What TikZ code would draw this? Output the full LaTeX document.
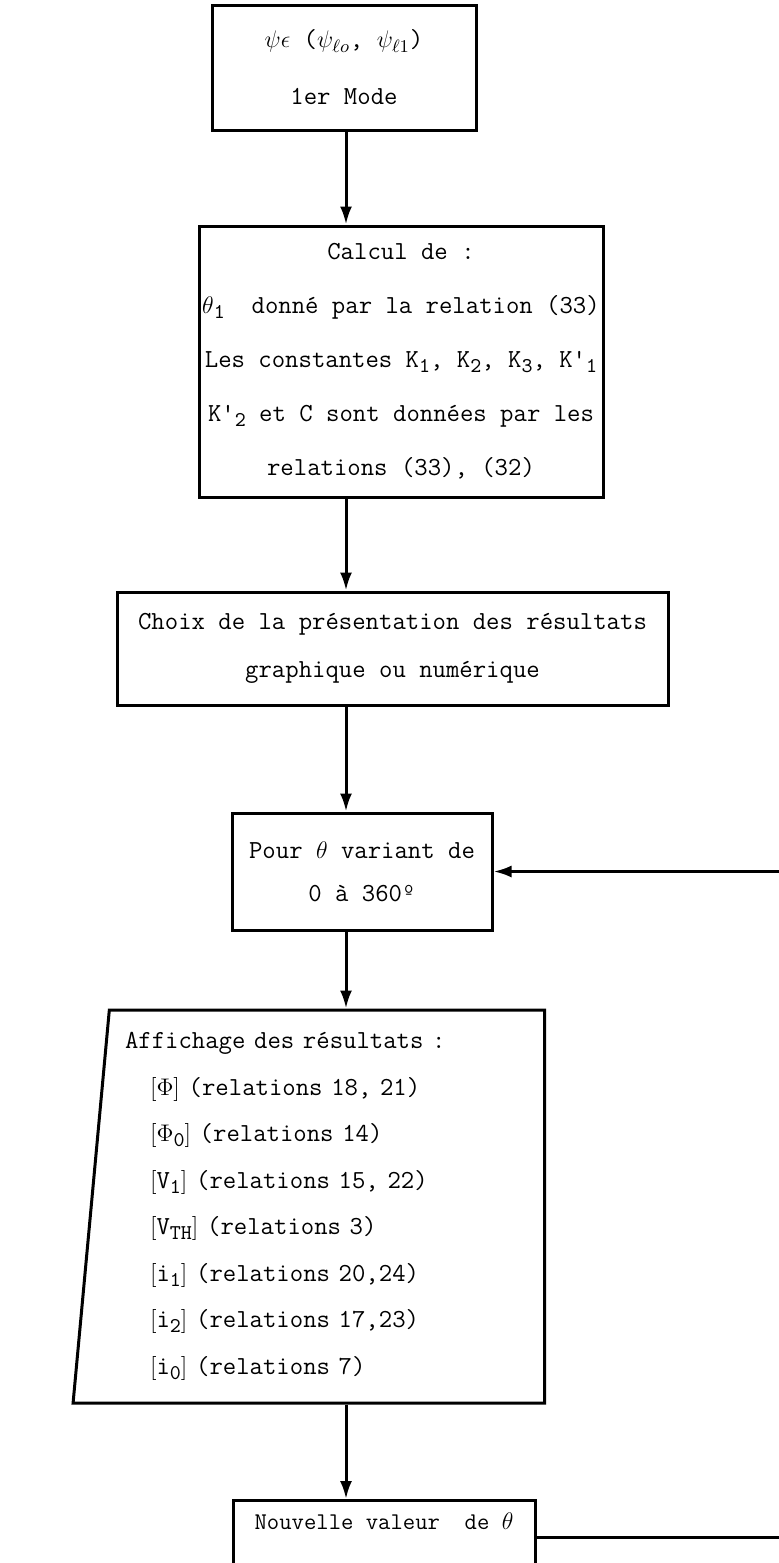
\documentclass[tikz,border=0pt]{standalone}
\usepackage{fontspec}
\usetikzlibrary{arrows.meta,shapes.geometric}

\newcommand{\crochet}[1]{$\bigl[$#1$\bigr]$}
\newcommand{\ind}[1]{\raisebox{-0.45ex}{\fontsize{10.5}{10.5}\selectfont #1}}

\begin{document}
\begin{tikzpicture}[x=0.5pt, y=-0.5pt, line width=1.5pt, >={Latex[length=9pt,width=6pt]},
		boite/.style={draw, align=center, inner sep=0pt, font=\ttfamily\fontsize{13}{#1}\selectfont}]
		\useasboundingbox (0,0) rectangle (779,1563);
		\clip (0,0) rectangle (779,1563);

		\node[boite=28.5, minimum width=132pt, minimum height=62.5pt] (mode) at (344,67.5)
			{$\psi\epsilon$ ($\psi_{\ell o}$, $\psi_{\ell 1}$)\\1er Mode};
		\node[boite=27, minimum width=202pt, minimum height=135.5pt] (calcul) at (401,361.5)
			{Calcul de :\\
			$\theta$\ind{1}\ \ donné par la relation (33)\\
			Les constantes K\ind{1}, K\ind{2}, K\ind{3}, K'\ind{1}\\
			K'\ind{2} et C sont données par les\\
			relations (33), (32)};
		\node[boite=24, minimum width=275.5pt, minimum height=56.5pt] (choix) at (392.5,648.5)
			{Choix de la présentation des résultats\\graphique ou numérique};
		\node[boite=21.5, minimum width=130pt, minimum height=58.5pt] (pour) at (362,871.5)
			{Pour $\theta$ variant de\\0 à 360º};
		\node[draw, trapezium, trapezium left angle=84.5, trapezium right angle=90, trapezium stretches=true,
			minimum width=236.5pt, minimum height=196.5pt, inner sep=3pt, align=left, text width=202pt,
			font=\ttfamily\fontsize{13}{23.25}\selectfont] (affichage) at (327,1206.5)
			{Affichage des résultats :\\
			\hspace*{12.5pt}\crochet{$\Phi$} (relations 18, 21)\\
			\hspace*{12.5pt}\crochet{$\Phi$\ind{0}} (relations 14)\\
			\hspace*{12.5pt}\crochet{V\ind{1}} (relations 15, 22)\\
			\hspace*{12.5pt}\crochet{V\ind{TH}} (relations 3)\\
			\hspace*{12.5pt}\crochet{i\ind{1}} (relations 20,24)\\
			\hspace*{12.5pt}\crochet{i\ind{2}} (relations 17,23)\\
			\hspace*{12.5pt}\crochet{i\ind{0}} (relations 7)};
		\node[draw, anchor=north, minimum width=151pt, inner xsep=0pt, inner ysep=6pt, text depth=30pt,
			font=\ttfamily\fontsize{12}{15}\selectfont] (nouvelle) at (384,1499)
			{Nouvelle valeur\ \ de $\theta$};

		\coordinate (axe) at (346,0);
		\coordinate (retour) at (800,1537);

		\draw[->]	(mode.south -| axe) to (calcul.north -| axe);
		\draw[->]	(calcul.south -| axe) to (choix.north -| axe);
		\draw[->]	(choix.south -| axe) to (pour.north -| axe);
		\draw[->]	(pour.south -| axe) to (affichage.north -| axe);
		\draw[->]	(affichage.south -| axe) to (nouvelle.north -| axe);
		\draw[->]	(nouvelle.east |- retour) -- (retour) |- (pour.east);
	\end{tikzpicture}
\end{document}
